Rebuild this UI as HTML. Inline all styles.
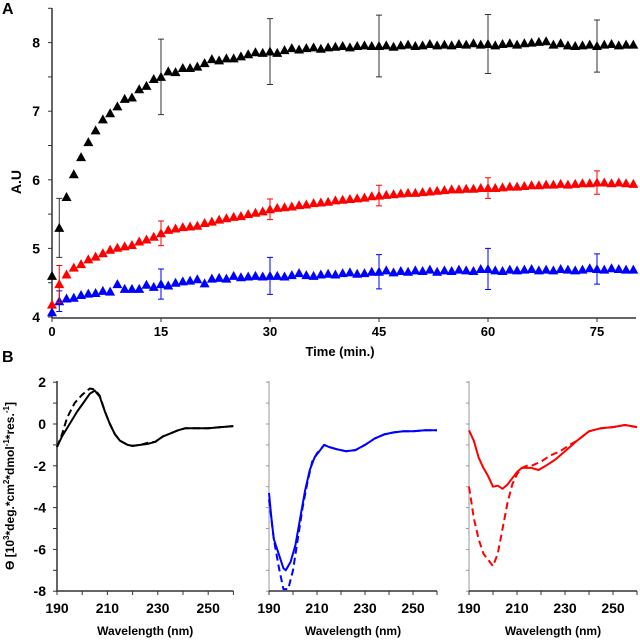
<!DOCTYPE html>
<html><head><meta charset="utf-8"><style>
body{margin:0;background:#fff;}
svg{display:block;font-family:"Liberation Sans",Arial,sans-serif;font-weight:bold;}
</style></head><body>
<svg id="fig" width="640" height="640" viewBox="0 0 640 640">
<text x="2" y="14" font-size="16">A</text>
<text x="2" y="362" font-size="16">B</text>
<g id="ga"></g>
<g id="gb"></g>
</svg>
<script>
// ---- Panel A data ----
const timeCategories = [];
for (let i = 0; i <= 80; i++) timeCategories.push(i);
const blackSeries = [4.6,5.3,5.75,6.08,6.33,6.55,6.72,6.88,6.97,7.07,7.18,7.2,7.32,7.37,7.47,7.5,7.58,7.57,7.63,7.63,7.65,7.7,7.76,7.74,7.77,7.77,7.8,7.83,7.86,7.85,7.87,7.85,7.89,7.92,7.9,7.92,7.93,7.91,7.93,7.94,7.95,7.93,7.95,7.96,7.95,7.95,7.96,7.94,7.96,7.97,7.95,7.96,7.98,7.96,7.97,7.96,7.98,7.97,7.99,7.97,7.98,7.96,7.98,7.99,7.97,7.99,8.0,8.01,8.02,7.97,7.99,7.96,7.95,7.96,7.97,7.95,7.97,7.98,7.96,7.97,7.97];
const redSeries = [4.18,4.48,4.62,4.72,4.77,4.84,4.88,4.93,4.98,5.01,5.03,5.05,5.1,5.13,5.17,5.22,5.27,5.29,5.31,5.32,5.33,5.37,5.39,5.42,5.44,5.46,5.47,5.5,5.52,5.54,5.57,5.59,5.6,5.61,5.63,5.64,5.66,5.67,5.68,5.7,5.71,5.72,5.73,5.74,5.76,5.77,5.78,5.79,5.8,5.81,5.81,5.82,5.83,5.84,5.85,5.86,5.86,5.87,5.87,5.88,5.88,5.88,5.89,5.9,5.9,5.91,5.92,5.92,5.93,5.93,5.94,5.93,5.94,5.95,5.95,5.96,5.96,5.95,5.96,5.95,5.94];
const blueSeries = [4.07,4.23,4.27,4.28,4.32,4.34,4.35,4.38,4.37,4.48,4.41,4.41,4.41,4.47,4.44,4.48,4.46,4.5,4.52,4.53,4.55,4.49,4.56,4.57,4.56,4.6,4.58,4.59,4.6,4.59,4.6,4.6,4.59,4.61,4.64,4.61,4.6,4.62,4.63,4.62,4.64,4.65,4.63,4.64,4.66,4.66,4.68,4.65,4.67,4.66,4.68,4.67,4.69,4.66,4.68,4.67,4.69,4.68,4.67,4.7,4.7,4.68,4.67,4.69,4.68,4.69,4.7,4.68,4.69,4.68,4.7,4.69,4.68,4.69,4.71,4.7,4.69,4.71,4.7,4.69,4.69];
const errTimes = [1,15,30,45,60,75];
const blackErr = [0.43,0.55,0.48,0.45,0.43,0.38];
const redErr = [0.27,0.18,0.15,0.15,0.15,0.17];
const blueErr = [0.15,0.22,0.27,0.25,0.3,0.22];
const xTicksA = [0,15,30,45,60,75];
const yTicksA = [4,5,6,7,8];

// ---- Panel B data ----
const wlBlackSolid = [190,192,195,198,201,203,205,207,209,211,213,215,218,220,223,226,229,232,235,238,241,245,250,255,260];
const valBlackSolid = [-1.1,-0.6,0,0.6,1.1,1.45,1.6,1.3,0.6,0,-0.5,-0.8,-1.0,-1.05,-1.0,-0.95,-0.85,-0.6,-0.45,-0.3,-0.2,-0.2,-0.2,-0.15,-0.1];
const wlBlackDash = [190,192,194,197,200,203,205,207,209,211,213,215,218,220,223,226,229,232,235,238,241,245,250,255,260];
const valBlackDash = [-1.1,-0.5,0.3,1.0,1.4,1.7,1.65,1.35,0.6,0,-0.5,-0.8,-1.0,-1.05,-1.0,-0.9,-0.85,-0.6,-0.45,-0.3,-0.2,-0.2,-0.2,-0.15,-0.1];
const wlBlueSolid = [190,191,192,194,196,197,199,201,203,205,207,209,211,213,215,218,222,226,230,234,238,242,246,250,255,260];
const valBlueSolid = [-3.3,-4.5,-5.5,-6.2,-6.9,-7.0,-6.6,-5.8,-4.5,-3.2,-2.2,-1.6,-1.3,-1.0,-1.1,-1.2,-1.3,-1.25,-1.0,-0.7,-0.5,-0.4,-0.35,-0.35,-0.3,-0.3];
const wlBlueDash = [190,192,194,196,198,200,202,204,206,208,210,213,215,218,222,226,230,234,238,242,246,250,255,260];
const valBlueDash = [-3.6,-5.5,-6.8,-7.9,-7.9,-7.0,-5.5,-4.0,-2.8,-1.8,-1.4,-1.0,-1.1,-1.2,-1.3,-1.25,-1.0,-0.7,-0.5,-0.4,-0.35,-0.35,-0.3,-0.3];
const wlRedSolid = [190,192,194,196,198,200,202,204,206,208,210,212,216,219,222,226,230,235,240,245,250,255,260];
const valRedSolid = [-0.3,-0.8,-1.6,-2.1,-2.5,-3.0,-2.95,-3.1,-2.9,-2.6,-2.3,-2.1,-2.1,-2.2,-2.0,-1.7,-1.3,-0.8,-0.35,-0.2,-0.15,-0.05,-0.15];
const wlRedDash = [190,192,194,196,198,200,202,204,206,208,210,212,214,216,220,224,228,232,235,240,245,250,255,260];
const valRedDash = [-3.0,-4.5,-5.5,-6.2,-6.5,-6.8,-6.2,-5.0,-3.8,-2.9,-2.4,-2.1,-2.0,-2.0,-1.8,-1.5,-1.3,-1.0,-0.8,-0.35,-0.2,-0.15,-0.05,-0.15];
const xTicksB = [190,210,230,250];
const yTicksB = [2,0,-2,-4,-6,-8];

const NS = "http://www.w3.org/2000/svg";
function mk(parent, tag, attrs, text) {
  const e = document.createElementNS(NS, tag);
  for (const k in attrs) e.setAttribute(k, attrs[k]);
  if (text !== undefined) e.textContent = text;
  parent.appendChild(e);
  return e;
}

// ---- Panel A ----
const ga = document.getElementById('ga');
const ax = t => 52 + t * (109 / 15);
const ay = v => 317 - (v - 4) * 68.6;
let l;
l = mk(ga, 'line', {x1:52, y1:8, x2:52, y2:318, stroke:'#333', 'stroke-width':1.5});


l = mk(ga, 'line', {x1:52, y1:318, x2:636, y2:318, stroke:'#333', 'stroke-width':1.5});


for (let v = 4; v <= 8.5; v += 0.5) {
  mk(ga, 'line', {x1:48, y1:ay(v), x2:52, y2:ay(v), stroke:'#333', 'stroke-width':1});
}
yTicksA.forEach(v => {
  const t = mk(ga, 'text', {x:40, y:ay(v) + 5, 'text-anchor':'end', 'font-size':14}, String(v));
  
  
});
xTicksA.forEach(v => {
  mk(ga, 'line', {x1:ax(v), y1:318, x2:ax(v), y2:322, stroke:'#333'});
  const t = mk(ga, 'text', {x:ax(v), y:336, 'text-anchor':'middle', 'font-size':13}, String(v));
  
  
});
l = mk(ga, 'text', {x:340, y:356, 'text-anchor':'middle', 'font-size':13}, 'Time (min.)');


l = mk(ga, 'text', {x:0, y:0, 'text-anchor':'middle', 'font-size':14, transform:'translate(21,182) rotate(-90)'}, 'A.U');



function seriesA(vals, errs, color, name) {
  const g = mk(ga, 'g', {});
  
  
  errTimes.forEach((t, i) => {
    const x = ax(t), v = vals[timeCategories.indexOf(t)];
    const y1 = ay(v + errs[i]), y2 = ay(v - errs[i]);
    const e = mk(g, 'path', {d:`M${x},${y1}V${y2}M${x-3},${y1}H${x+3}M${x-3},${y2}H${x+3}`, stroke:color === '#000' ? '#333' : color, 'stroke-width':1, fill:'none'});
    
    
  });
  vals.forEach((v, i) => {
    const x = ax(timeCategories[i]), y = ay(v);
    const p = mk(g, 'path', {d:`M${x},${y-5}L${x+5},${y+4}L${x-5},${y+4}Z`, fill:color});
    
    
  });
}
seriesA(blueSeries, blueErr, '#0000ff', 'series-blue');
seriesA(redSeries, redErr, '#ff0000', 'series-red');
seriesA(blackSeries, blackErr, '#000', 'series-black');

// ---- Panel B ----
const gb = document.getElementById('gb');
const by = v => 424 - v * 20.9;
function panelB(x0, sc, curves, idx, showLabels) {
  const bx = w => x0 + (w - 190) * sc;
  const g = mk(gb, 'g', {});
  
  
  const axc = showLabels ? '#333' : '#999';
  mk(g, 'line', {x1:x0, y1:381, x2:x0, y2:592, stroke:axc, 'stroke-width':showLabels?1.5:1});
  mk(g, 'line', {x1:x0, y1:591, x2:Math.min(bx(260), 640), y2:591, stroke:'#333', 'stroke-width':1.5});
  for (let v = -8; v <= 2; v++) {
    if (showLabels) mk(g, 'line', {x1:x0 - 4, y1:by(v), x2:x0, y2:by(v), stroke:axc});
    else mk(g, 'line', {x1:x0 - 3, y1:by(v), x2:x0, y2:by(v), stroke:axc});
  }
  if (showLabels) yTicksB.forEach(v => {
    const t = mk(g, 'text', {x:x0 - 11, y:by(v) + 5, 'text-anchor':'end', 'font-size':14}, String(v));
    
    
  });
  for (let w = 190; w <= 260; w += 10) mk(g, 'line', {x1:bx(w), y1:591, x2:bx(w), y2:595, stroke:'#333'});
  xTicksB.forEach(w => {
    const t = mk(g, 'text', {x:bx(w), y:613, 'text-anchor':'middle', 'font-size':14}, String(w));
    
    
  });
  const tt = mk(g, 'text', {x:bx(225), y:635, 'text-anchor':'middle', 'font-size':12}, 'Wavelength (nm)');
  
  
  curves.forEach(c => {
    const d = c.w.map((w, i) => (i ? 'L' : 'M') + bx(w).toFixed(1) + ',' + by(c.v[i]).toFixed(1)).join('');
    const p = mk(g, 'path', {d:d, fill:'none', stroke:c.color, 'stroke-width':2, 'stroke-dasharray':c.dash ? '7,4' : 'none', 'stroke-linejoin':'round'});
    
    
  });
}
panelB(57, 2.52, [{w:wlBlackDash, v:valBlackDash, color:'#000', dash:true},{w:wlBlackSolid, v:valBlackSolid, color:'#000'}], 1, true);
panelB(269, 2.4, [{w:wlBlueDash, v:valBlueDash, color:'#0000ff', dash:true},{w:wlBlueSolid, v:valBlueSolid, color:'#0000ff'}], 2, false);
panelB(469, 2.4, [{w:wlRedDash, v:valRedDash, color:'#ff0000', dash:true},{w:wlRedSolid, v:valRedSolid, color:'#ff0000'}], 3, false);
l = mk(gb, 'text', {x:0, y:0, 'text-anchor':'middle', 'font-size':12, transform:'translate(14,486) rotate(-90)'});


l.innerHTML = 'ϴ [10<tspan font-size="8" dy="-5">3</tspan><tspan dy="5">*deg.*cm</tspan><tspan font-size="8" dy="-5">2</tspan><tspan dy="5">*dmol</tspan><tspan font-size="8" dy="-5">-1</tspan><tspan dy="5">*res.</tspan><tspan font-size="8" dy="-5">-1</tspan><tspan dy="5">]</tspan>';
</script>
</body></html>
